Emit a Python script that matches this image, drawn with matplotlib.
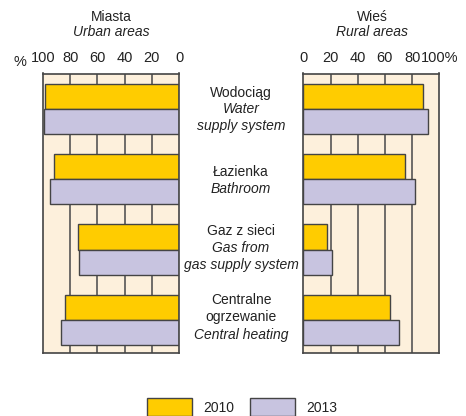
import matplotlib.pyplot as plt
from matplotlib.patches import Rectangle

plt.rcParams['font.family'] = ['Liberation Sans Narrow', 'Liberation Sans', 'DejaVu Sans']

# dane (%)
categories = ['Wodociąg', 'Łazienka', 'Gaz z sieci', 'Centralne ogrzewanie']
urban_2010 = [98.5, 92, 74, 84]
urban_2013 = [99, 95, 73.5, 87]
rural_2010 = [88, 75, 17.5, 63.5]
rural_2013 = [92, 82, 21, 70]
years = ['2010', '2013']
ticks = [0, 20, 40, 60, 80, 100]

c2010 = '#ffcc00'
c2013 = '#c8c4e0'
bg = '#fdf0dc'
edge = '#444444'

W, H = 466, 416
fig = plt.figure(figsize=(W / 100, H / 100), dpi=100)

def px(x, y):
    return x / W, 1 - y / H

ax_l = fig.add_axes([43 / W, 1 - 353 / H, 136 / W, 279.5 / H])
ax_r = fig.add_axes([303.3 / W, 1 - 353 / H, 136 / W, 279.5 / H])

pos = list(range(len(categories)))
h = 25 / 70

for ax, v10, v13 in [(ax_l, urban_2010, urban_2013), (ax_r, rural_2010, rural_2013)]:
    ax.set_facecolor(bg)
    for t in [20, 40, 60, 80]:
        ax.axvline(t, color='#555555', lw=1.2, zorder=1)
    ax.barh([p - h / 2 for p in pos], v10, height=h, color=c2010, edgecolor=edge, lw=1, zorder=2)
    ax.barh([p + h / 2 for p in pos], v13, height=h, color=c2013, edgecolor=edge, lw=1, zorder=2)
    ax.set_xlim(0, 100)
    ax.set_ylim(3.47, -0.5)
    ax.set_yticks([])
    ax.set_xticks(ticks)
    ax.xaxis.tick_top()
    ax.tick_params(axis='x', length=0, pad=6, labelsize=10.5, colors='#222222')
    for s in ax.spines.values():
        s.set_color('#444444')
        s.set_linewidth(1.2)

ax_l.invert_xaxis()
ax_l.set_xticklabels([str(t) for t in ticks])
ax_r.set_xticklabels([str(t) for t in ticks[:-1]] + ['100%'])
fig.text(*px(20, 62), '%', ha='center', va='center', fontsize=10.5, color='#222222')

fs = 10
fig.text(*px(111, 17), 'Miasta', ha='center', va='center', fontsize=fs, color='#222222')
fig.text(*px(111, 32), 'Urban areas', ha='center', va='center', fontsize=fs, style='italic', color='#222222')
fig.text(*px(372, 17), 'Wieś', ha='center', va='center', fontsize=fs, color='#222222')
fig.text(*px(372, 32), 'Rural areas', ha='center', va='center', fontsize=fs, style='italic', color='#222222')

labels = [
    [('Wodociąg', 'normal', 93), ('Water', 'italic', 109), ('supply system', 'italic', 126)],
    [('Łazienka', 'normal', 172), ('Bathroom', 'italic', 189)],
    [('Gaz z sieci', 'normal', 231), ('Gas from', 'italic', 248), ('gas supply system', 'italic', 265)],
    [('Centralne', 'normal', 300), ('ogrzewanie', 'normal', 317), ('Central heating', 'italic', 335)],
]
for group in labels:
    for txt, st, y in group:
        fig.text(*px(241, y), txt, ha='center', va='center', fontsize=fs, style=st, color='#222222')

# legenda
for x0, col, yr in [(147, c2010, years[0]), (250, c2013, years[1])]:
    fig.add_artist(Rectangle(px(x0, 416), 45 / W, 18 / H, transform=fig.transFigure,
                             facecolor=col, edgecolor=edge, lw=1))
    fig.text(*px(x0 + 56, 408), yr, ha='left', va='center', fontsize=fs, color='#222222')

fig.savefig('out.png', dpi=100)
